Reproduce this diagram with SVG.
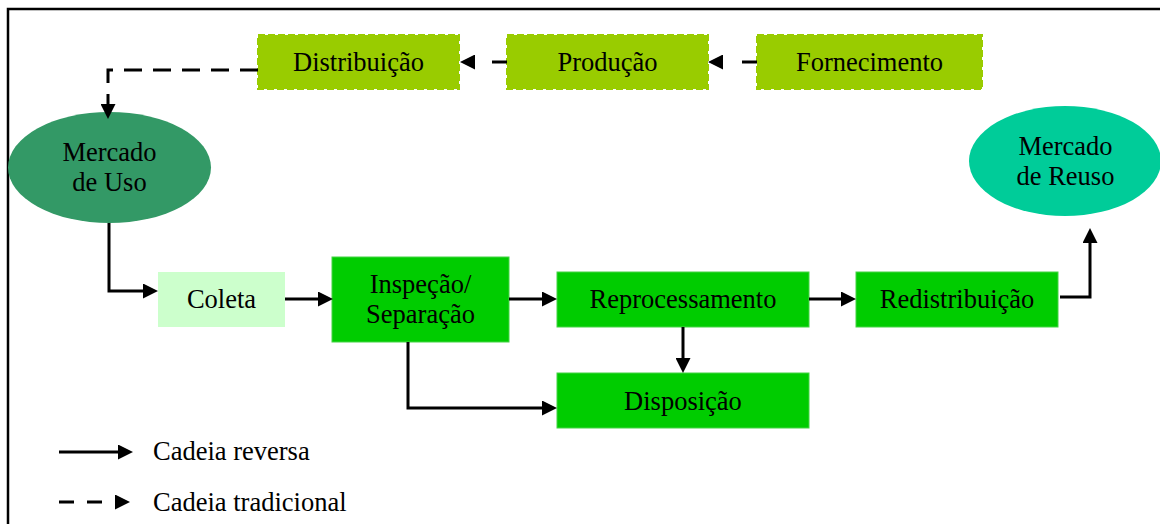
<svg xmlns="http://www.w3.org/2000/svg" width="1160" height="524" viewBox="0 0 1160 524">
<style>
text{font-family:"Liberation Serif","Times New Roman",serif;font-size:26.5px;fill:#000;text-anchor:middle}
.leg{text-anchor:start}
.trad{fill:#99CC00;stroke:#99CC00;stroke-width:2;stroke-dasharray:7 3}
.green{fill:#00CC00;stroke:#44D444;stroke-width:1}
.c{fill:none;stroke:#000;stroke-width:3;stroke-linejoin:miter;marker-end:url(#ah)}
.d{stroke-dasharray:15 13}
</style>
<defs>
<marker id="ah" markerUnits="userSpaceOnUse" markerWidth="15" markerHeight="15" refX="0" refY="7.5" orient="auto">
<path d="M0,0 L15,7.5 L0,15 z" fill="#000"/>
</marker>
</defs>
<rect width="1160" height="524" fill="#fff"/>
<path d="M8,530 V9 H1165" fill="none" stroke="#000" stroke-width="2.5"/>

<g id="distribuicao"><rect class="trad" x="258" y="35" width="201" height="54"/><text x="358.5" y="71">Distribuição</text></g>
<g id="producao"><rect class="trad" x="507" y="35" width="201" height="54"/><text x="607.5" y="71">Produção</text></g>
<g id="fornecimento"><rect class="trad" x="757" y="35" width="225" height="54"/><text x="869.5" y="71">Fornecimento</text></g>

<g id="mercado-uso"><ellipse cx="109.5" cy="167.5" rx="101.5" ry="55.5" fill="#339966"/><text x="109.5" y="161">Mercado</text><text x="109.5" y="191">de Uso</text></g>
<g id="mercado-reuso"><ellipse cx="1065" cy="161" rx="96" ry="55" fill="#00CC99"/><text x="1065.5" y="155">Mercado</text><text x="1065.5" y="185">de Reuso</text></g>

<g id="coleta"><rect x="158" y="272" width="127" height="55" fill="#CCFFCC"/><text x="221.5" y="308">Coleta</text></g>
<g id="inspecao"><rect class="green" x="332" y="257" width="177" height="85"/><text x="420.5" y="293">Inspeção/</text><text x="420.5" y="323">Separação</text></g>
<g id="reprocessamento"><rect class="green" x="557" y="272" width="252" height="55"/><text x="683" y="308">Reprocessamento</text></g>
<g id="disposicao"><rect class="green" x="557" y="373" width="252" height="55"/><text x="683" y="410">Disposição</text></g>
<g id="redistribuicao"><rect class="green" x="856" y="272" width="202" height="55"/><text x="957" y="308">Redistribuição</text></g>

<g id="connectors">
<path class="c" d="M757,62 H723" style="stroke-dasharray:15 19"/>
<path class="c" d="M507,62 H475" style="stroke-dasharray:15 17"/>
<path class="c" d="M258,70 H108 V104" style="stroke-dasharray:18 11"/>
<path class="c" d="M109,223 V291 H143"/>
<path class="c" d="M285,299 H318"/>
<path class="c" d="M509,299 H542"/>
<path class="c" d="M408,342 V408 H542"/>
<path class="c" d="M683,327 V358"/>
<path class="c" d="M809,299 H841"/>
<path class="c" d="M1060,297 H1090 V243"/>
</g>

<g id="legend">
<path class="c" d="M59,452 H118"/>
<text class="leg" x="153" y="460">Cadeia reversa</text>
<path class="c d" d="M59,502 H115"/>
<text class="leg" x="153" y="511">Cadeia tradicional</text>
</g>
</svg>
